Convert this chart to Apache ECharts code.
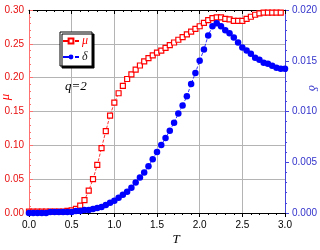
<!DOCTYPE html>
<html>
<head>
<meta charset="utf-8">
<script src="https://cdn.jsdelivr.net/npm/echarts@6/dist/echarts.min.js"></script>
<style>
html, body { margin: 0; padding: 0; background: #fff; }
#chart { width: 320px; height: 250px; }
</style>
</head>
<body>
<div id="chart"></div>
<script>
// temperature values
var tMu = [0.00, 0.05, 0.10, 0.15, 0.20, 0.25, 0.30, 0.35, 0.40, 0.45,
    0.50, 0.55, 0.60, 0.65, 0.70, 0.75, 0.80, 0.85, 0.90, 0.95,
    1.00, 1.05, 1.10, 1.15, 1.20, 1.25, 1.30, 1.35, 1.40, 1.45,
    1.50, 1.55, 1.60, 1.65, 1.70, 1.75, 1.80, 1.85, 1.90, 1.95,
    2.00, 2.05, 2.10, 2.15, 2.20, 2.25, 2.30, 2.35, 2.40, 2.45,
    2.50, 2.55, 2.60, 2.65, 2.70, 2.75, 2.80, 2.85, 2.90, 2.95];
var tDelta = tMu.concat([3.00]);

// mu (left axis)
var mu = [0.002, 0.002, 0.002, 0.002, 0.002, 0.002, 0.002, 0.002, 0.002, 0.003,
    0.004, 0.006, 0.011, 0.019, 0.033, 0.050, 0.071, 0.096, 0.121, 0.144,
    0.163, 0.177, 0.188, 0.198, 0.205, 0.212, 0.218, 0.224, 0.229, 0.233,
    0.237, 0.240, 0.244, 0.248, 0.252, 0.256, 0.260, 0.264, 0.268, 0.272,
    0.276, 0.281, 0.285, 0.288, 0.289, 0.289, 0.287, 0.286, 0.284, 0.284,
    0.284, 0.287, 0.290, 0.293, 0.295, 0.296, 0.296, 0.296, 0.296, 0.296];

// delta (right axis)
var delta = [0.0000, 0.0000, 0.0000, 0.0000, 0.0000, 0.0001, 0.0001, 0.0001, 0.0001, 0.0001,
    0.0001, 0.0002, 0.0002, 0.0003, 0.0003, 0.0004, 0.0005, 0.0006, 0.0008, 0.0010,
    0.0012, 0.0015, 0.0018, 0.0021, 0.0025, 0.0030, 0.0035, 0.0040, 0.0046, 0.0053,
    0.0060, 0.0067, 0.0074, 0.0081, 0.0089, 0.0098, 0.0106, 0.0115, 0.0127, 0.0138,
    0.0150, 0.0161, 0.0175, 0.0184, 0.0187, 0.0184, 0.0180, 0.0177, 0.0173, 0.0168,
    0.0163, 0.0160, 0.0157, 0.0153, 0.0151, 0.0148, 0.0147, 0.0145, 0.0143, 0.0142,
    0.0142];

var pairs = function (xs, ys) {
    return ys.map(function (v, i) { return [xs[i], v]; });
};

var labelFont = 'Liberation Sans, Arial, sans-serif';
var italicFont = 'Liberation Serif, Times New Roman, serif';

var myChart = echarts.init(document.getElementById('chart'));
myChart.setOption({
    animation: false,
    grid: { left: 29, right: 35, top: 10, bottom: 37, outerBoundsMode: 'none', containLabel: false },
    legend: {
        orient: 'vertical',
        left: 60,
        top: 32,
        padding: [3, 4, 3, 2],
        itemGap: 4,
        itemWidth: 16,
        itemHeight: 6,
        backgroundColor: '#fff',
        borderColor: '#000',
        borderWidth: 1,
        borderRadius: 0,
        shadowColor: '#000',
        shadowOffsetX: 2,
        shadowOffsetY: 2,
        shadowBlur: 0,
        textStyle: { fontFamily: italicFont, fontStyle: 'italic', fontSize: 12, padding: [0, 0, 0, -2] },
        data: [
            { name: 'μ', textStyle: { color: '#ff0000' } },
            { name: 'δ', textStyle: { color: '#222' } }
        ]
    },
    xAxis: [{
        type: 'value',
        min: 0,
        max: 3,
        interval: 0.5,
        name: 'T',
        nameLocation: 'middle',
        nameGap: 20,
        nameMoveOverlap: false,
        nameTextStyle: { fontFamily: italicFont, fontStyle: 'italic', fontSize: 13, color: '#000', padding: [0, 0, 0, 38] },
        axisLine: { onZero: false, lineStyle: { color: '#000', width: 1 } },
        axisTick: { inside: false, length: 4, lineStyle: { color: '#000' } },
        minorTick: { show: true, splitNumber: 5, length: 2, lineStyle: { color: '#000' } },
        axisLabel: { color: '#000', fontSize: 10, fontFamily: labelFont, margin: 7,
            formatter: function (v) { return v.toFixed(1); } },
        splitLine: { show: true, lineStyle: { color: '#b4b4b4', width: 1 } }
    }, {
        type: 'value',
        position: 'top',
        min: 0,
        max: 3,
        interval: 0.5,
        axisLine: { onZero: false, lineStyle: { color: '#000', width: 1 } },
        axisTick: { inside: true, length: 4, lineStyle: { color: '#000' } },
        minorTick: { show: true, splitNumber: 5, length: 2, lineStyle: { color: '#000' } },
        axisLabel: { show: false },
        splitLine: { show: false }
    }],
    yAxis: [{
        type: 'value',
        min: 0,
        max: 0.3,
        interval: 0.05,
        axisLine: { onZero: false, lineStyle: { color: '#ff7070', width: 1 } },
        axisTick: { inside: true, length: 4, lineStyle: { color: '#ff7070' } },
        minorTick: { show: true, splitNumber: 5, length: 2, lineStyle: { color: '#ff7070' } },
        axisLabel: { color: '#e81010', fontSize: 10, fontFamily: labelFont, margin: 5,
            formatter: function (v) { return v.toFixed(2); } },
        splitLine: { show: true, lineStyle: { color: '#b4b4b4', width: 1 } }
    }, {
        type: 'value',
        position: 'right',
        min: 0,
        max: 0.02,
        interval: 0.005,
        axisLine: { onZero: false, lineStyle: { color: '#4444dd', width: 1 } },
        axisTick: { inside: false, length: 4, lineStyle: { color: '#4444dd' } },
        minorTick: { show: true, splitNumber: 5, length: 2, lineStyle: { color: '#4444dd' } },
        axisLabel: { color: '#3333cc', fontSize: 10, fontFamily: labelFont, margin: 7,
            formatter: function (v) { return v.toFixed(3); } },
        splitLine: { show: false }
    }],
    // axis titles and the q=2 note
    graphic: [{
        type: 'text',
        x: 6,
        y: 97,
        rotation: Math.PI / 2,
        style: { text: 'μ', fill: '#ff0000', font: 'italic 13px ' + italicFont, align: 'center', verticalAlign: 'middle' }
    }, {
        type: 'text',
        x: 312,
        y: 88,
        rotation: -Math.PI / 2,
        style: { text: 'δ', fill: '#3333cc', font: 'italic 13px ' + italicFont, align: 'center', verticalAlign: 'middle' }
    }, {
        type: 'text',
        left: 65,
        top: 80,
        style: { text: 'q=2', fill: '#000', font: 'italic 13px ' + italicFont }
    }],
    series: [{
        name: 'μ',
        type: 'line',
        xAxisIndex: 0,
        yAxisIndex: 0,
        clip: false,
        symbol: 'rect',
        symbolSize: 5,
        showAllSymbol: true,
        itemStyle: { color: '#fff', borderColor: '#ff0000', borderWidth: 1.2 },
        lineStyle: { color: '#ff0000', width: 0.8, type: 'dashed' },
        data: pairs(tMu, mu)
    }, {
        name: 'δ',
        type: 'line',
        xAxisIndex: 0,
        yAxisIndex: 1,
        clip: false,
        symbol: 'circle',
        symbolSize: 6.5,
        showAllSymbol: true,
        itemStyle: { color: '#0000ff' },
        lineStyle: { color: '#0000ff', width: 0.8, type: 'dashed' },
        data: pairs(tDelta, delta)
    }]
});
window.onresize = myChart.resize;
</script>
</body>
</html>
